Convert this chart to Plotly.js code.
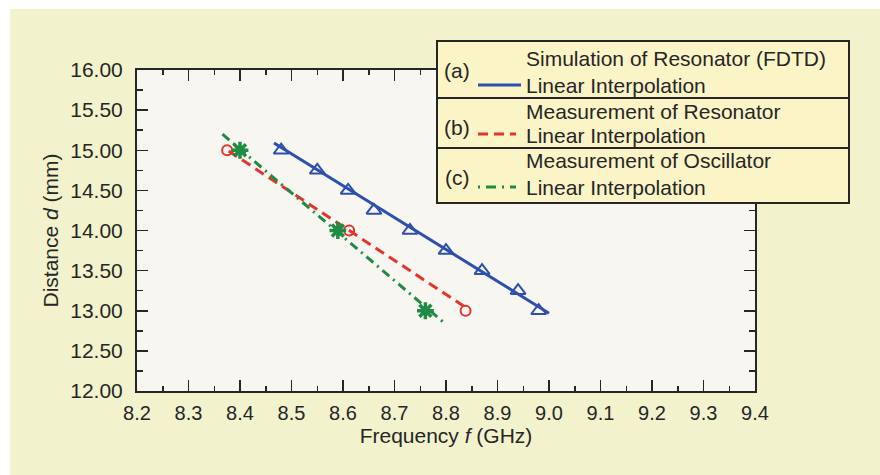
<!DOCTYPE html>
<html>
<head>
<meta charset="utf-8">
<script src="https://cdn.plot.ly/plotly-3.0.1.min.js"></script>
<style>
  html, body { margin: 0; padding: 0; background: #ffffff; width: 880px; height: 475px; overflow: hidden; }
  #chart { position: absolute; left: 10px; top: 9px; width: 870px; height: 466px; }
</style>
</head>
<body>
<div id="chart"></div>
<script>
// ---- Data ----
var simFreq   = [8.48, 8.55, 8.61, 8.66, 8.73, 8.80, 8.87, 8.94, 8.98];
var simDist   = [15.00, 14.75, 14.50, 14.25, 14.00, 13.75, 13.50, 13.25, 13.00];
var simFitFreq = [8.466, 9.00];
var simFitDist = [15.09, 12.97];

var resFreq   = [8.375, 8.612, 8.838];
var resDist   = [15.00, 14.00, 13.00];
var resFitFreq = [8.378, 8.834];
var resFitDist = [14.99, 13.06];

var oscFreq   = [8.40, 8.59, 8.76];
var oscDist   = [15.00, 14.00, 13.00];
var oscFitFreq = [8.366, 8.80];
var oscFitDist = [15.20, 12.83];

var xTickVals = [8.2, 8.3, 8.4, 8.5, 8.6, 8.7, 8.8, 8.9, 9.0, 9.1, 9.2, 9.3, 9.4];
var yTickVals = [12.0, 12.5, 13.0, 13.5, 14.0, 14.5, 15.0, 15.5, 16.0];

var legendGroups = ['(a)', '(b)', '(c)'];
var legendLabels = ['Simulation of Resonator (FDTD)', 'Linear Interpolation',
                    'Measurement of Resonator', 'Linear Interpolation',
                    'Measurement of Oscillator', 'Linear Interpolation'];

// ---- Styles ----
var BLUE = '#2f4fae', RED = '#e5332e', GREEN = '#1f8c45';
var INK = '#262626';
var FONT = 'Liberation Sans, Arial, Helvetica, sans-serif';

// pixel (in 880x475 frame) -> paper coords
var L = 137, R = 755, T = 70, B = 391;
function px(x) { return (x - L) / (R - L); }
function py(y) { return (B - y) / (B - T); }

var traces = [
  {x: simFitFreq, y: simFitDist, mode: 'lines', line: {color: BLUE, width: 3}, hoverinfo: 'skip'},
  {x: resFitFreq, y: resFitDist, mode: 'lines', line: {color: RED, width: 3, dash: '10px,6px'}},
  {x: oscFitFreq, y: oscFitDist, mode: 'lines', line: {color: GREEN, width: 3, dash: '9px,5px,2px,5px'}},
  {x: simFreq, y: simDist, mode: 'markers',
   marker: {symbol: 'triangle-up-open', size: 13, color: BLUE, line: {color: BLUE, width: 2}}},
  {x: resFreq, y: resDist, mode: 'markers',
   marker: {symbol: 'circle-open', size: 10, color: RED, line: {color: RED, width: 2}}},
  {x: oscFreq, y: oscDist, mode: 'markers',
   marker: {symbol: 'asterisk-open', size: 14, color: GREEN, line: {color: GREEN, width: 3.5}}},
  // legend glyphs (on pixel overlay axes)
  {x: [500], y: [58], xaxis: 'x2', yaxis: 'y2', mode: 'markers', cliponaxis: false,
   marker: {symbol: 'triangle-up-open', size: 12, color: BLUE, line: {color: BLUE, width: 2.5}}},
  {x: [500], y: [109], xaxis: 'x2', yaxis: 'y2', mode: 'markers', cliponaxis: false,
   marker: {symbol: 'circle-open', size: 8, color: RED, line: {color: RED, width: 2.5}}},
  {x: [500], y: [159], xaxis: 'x2', yaxis: 'y2', mode: 'markers', cliponaxis: false,
   marker: {symbol: 'asterisk-open', size: 12, color: GREEN, line: {color: GREEN, width: 3.5}}}
];

var shapes = [
  // legend box
  {type: 'rect', xref: 'paper', yref: 'paper', x0: px(437), x1: px(849), y0: py(41), y1: py(203),
   fillcolor: '#fbf4c6', line: {color: INK, width: 2}},
  {type: 'line', xref: 'paper', yref: 'paper', x0: px(437), x1: px(849), y0: py(98), y1: py(98),
   line: {color: INK, width: 2}},
  {type: 'line', xref: 'paper', yref: 'paper', x0: px(437), x1: px(849), y0: py(148), y1: py(148),
   line: {color: INK, width: 2}},
  // legend line samples
  {type: 'line', xref: 'paper', yref: 'paper', x0: px(478), x1: px(521), y0: py(85), y1: py(85),
   line: {color: BLUE, width: 3}},
  {type: 'line', xref: 'paper', yref: 'paper', x0: px(478), x1: px(516), y0: py(134), y1: py(134),
   line: {color: RED, width: 3, dash: '10px,6px'}},
  {type: 'line', xref: 'paper', yref: 'paper', x0: px(478), x1: px(516), y0: py(187), y1: py(187),
   line: {color: GREEN, width: 3, dash: '2px,6px,10px,6px'}}
];

var rowY = [58, 85, 111, 135, 160, 187];
var groupY = [70, 127, 177];
var annotations = [];
for (var i = 0; i < legendLabels.length; i++) {
  annotations.push({xref: 'paper', yref: 'paper', x: px(524), y: py(rowY[i]), xanchor: 'left', yanchor: 'middle',
    text: legendLabels[i], showarrow: false, font: {family: FONT, size: 21, color: INK}});
}
for (var j = 0; j < legendGroups.length; j++) {
  annotations.push({xref: 'paper', yref: 'paper', x: px(457), y: py(groupY[j]), xanchor: 'center', yanchor: 'middle',
    text: legendGroups[j], showarrow: false, font: {family: FONT, size: 21, color: INK}});
}

var axisCommon = {
  showgrid: false, zeroline: false, showline: true, linecolor: INK, linewidth: 2,
  mirror: 'ticks', ticks: 'inside', tickcolor: INK, tickwidth: 1.5, ticklen: 11
};

var layout = {
  width: 870, height: 466,
  margin: {l: L - 10, r: 870 - (R - 10), t: T - 9, b: 466 - (B - 9), pad: 0},
  paper_bgcolor: '#f2f3cd',
  plot_bgcolor: '#f7f6f0',
  showlegend: false,
  font: {family: FONT, color: INK},
  xaxis: Object.assign({}, axisCommon, {
    range: [8.2, 9.4], tickvals: xTickVals, tickformat: '.1f',
    tickfont: {family: FONT, size: 20, color: INK},
    minor: {dtick: 0.05, tick0: 8.2, ticks: 'inside', ticklen: 5, tickcolor: INK, tickwidth: 1.5},
    ticklabelstandoff: 3,
    title: {text: 'Frequency <i>f</i> (GHz)', font: {family: FONT, size: 21, color: INK}, standoff: 2}
  }),
  yaxis: Object.assign({}, axisCommon, {
    range: [12, 16], tickvals: yTickVals, tickformat: '.2f',
    tickfont: {family: FONT, size: 21, color: INK},
    minor: {dtick: 0.25, tick0: 12, ticks: 'inside', ticklen: 6, tickcolor: INK, tickwidth: 1.5},
    ticklabelstandoff: 8,
    title: {text: 'Distance <i>d</i> (mm)', font: {family: FONT, size: 21, color: INK}, standoff: 6}
  }),
  xaxis2: {overlaying: 'x', range: [L, R], visible: false, fixedrange: true},
  yaxis2: {overlaying: 'y', range: [B, T], visible: false, fixedrange: true},
  shapes: shapes,
  annotations: annotations
};

Plotly.newPlot('chart', traces, layout, {displayModeBar: false, staticPlot: true});
</script>
</body>
</html>
